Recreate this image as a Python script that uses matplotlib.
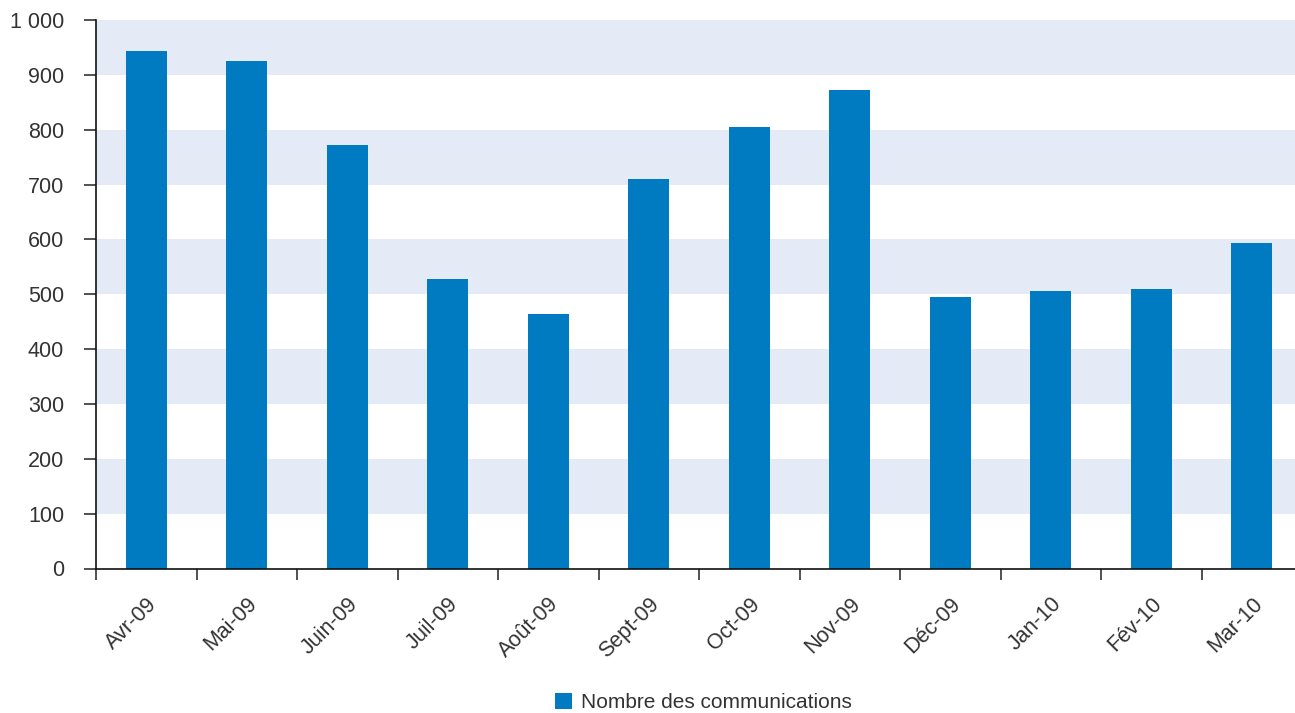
import numpy as np
import matplotlib
matplotlib.use("Agg")
import matplotlib.pyplot as plt
from matplotlib.ticker import FuncFormatter

# Données : nombre des communications par mois
mois = ["Avr-09", "Mai-09", "Juin-09", "Juil-09", "Août-09", "Sept-09",
        "Oct-09", "Nov-09", "Déc-09", "Jan-10", "Fév-10", "Mar-10"]
communications = [944, 925, 772, 528, 464, 710, 805, 872, 495, 506, 510, 594]

bar_color = "#007BC2"
band_color = "#E4EBF6"
text_color = "#333333"

plt.rcParams['font.family'] = ['Liberation Sans', 'DejaVu Sans']

fig = plt.figure(figsize=(12.95, 7.13), dpi=100)
# l'axe déborde légèrement à droite (dernière catégorie coupée par le bord)
ax = fig.add_axes([96 / 1295, 1 - 568.5 / 713, 1206 / 1295, 548.5 / 713])

x = np.arange(len(mois))

# bandes horizontales alternées
for y0 in range(100, 1000, 200):
    ax.axhspan(y0, y0 + 100, color=band_color, zorder=0, lw=0)

ax.bar(x, communications, width=0.41, color=bar_color, zorder=2,
       label="Nombre des communications")

ax.set_xlim(-0.5, len(mois) - 0.5)
ax.set_ylim(0, 1000)
ax.set_yticks(np.arange(0, 1001, 100))
ax.yaxis.set_major_formatter(FuncFormatter(lambda v, p: f"{int(v):,}".replace(",", " ")))

# ticks x aux limites des catégories, étiquettes au centre
ax.set_xticks(np.arange(-0.5, len(mois) - 0.5, 1))
ax.set_xticklabels([])
ax.set_xticks(x, minor=True)
ax.set_xticklabels(mois, minor=True, rotation=45, ha="right", rotation_mode="anchor",
                   fontsize=15.5, color=text_color)
ax.tick_params(axis="x", which="minor", length=0, pad=18)
ax.tick_params(axis="x", which="major", length=8, width=1.2, color="#333333")
ax.tick_params(axis="y", length=9, width=1.2, color="#333333", labelsize=15.5,
               labelcolor=text_color, pad=14)

for s in ["top", "right"]:
    ax.spines[s].set_visible(False)
for s in ["left", "bottom"]:
    ax.spines[s].set_linewidth(1.2)
    ax.spines[s].set_color("#111111")

fig.legend(loc="lower center", bbox_to_anchor=(703 / 1295, -0.025), frameon=False,
           fontsize=15, handlelength=0.85, handleheight=0.85, handletextpad=0.4,
           labelcolor=text_color)

fig.savefig("out.png", dpi=100)
